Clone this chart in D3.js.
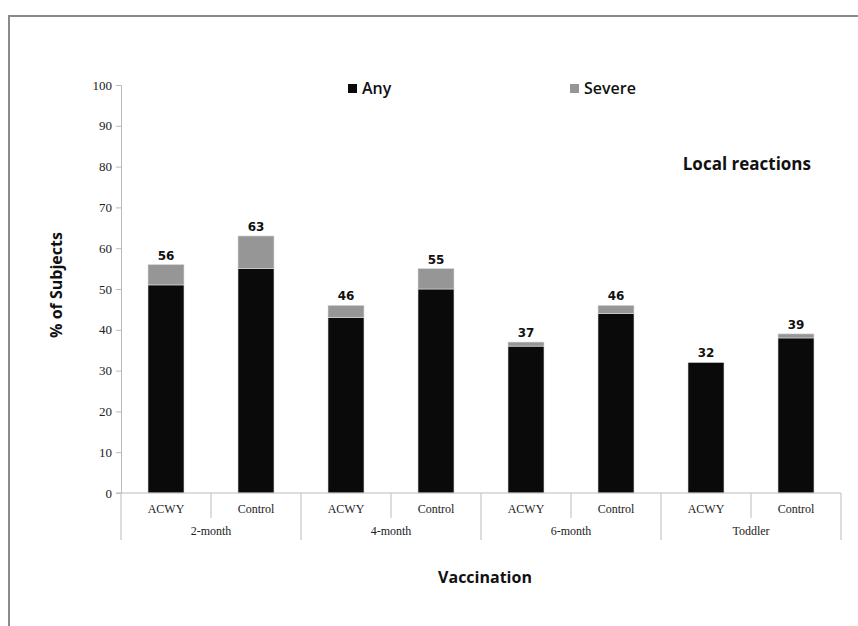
<!DOCTYPE html>
<html><head><meta charset="utf-8">
<script src="https://cdn.jsdelivr.net/npm/d3@7"></script>
<style>body{margin:0;background:#fff}</style>
</head><body>
<svg id="c" width="858" height="626"></svg>
<script>
const groups = ["2-month","4-month","6-month","Toddler"];
const arms = ["ACWY","Control"];
const anyVals = [51,55,43,50,36,44,32,38];
const severeVals = [5,8,3,5,1,2,0,1];
const totals = [56,63,46,55,37,46,32,39];
const yTicks = [0,10,20,30,40,50,60,70,80,90,100];
const seriesNames = ["Any","Severe"];
const colors = {Any:"#0a0a0a", Severe:"#969696"};

const svg = d3.select("#c");
// frame
svg.append("line").attr("x1",8).attr("x2",858).attr("y1",16).attr("y2",16).attr("stroke","#8a8a8a").attr("stroke-width",2);
svg.append("line").attr("x1",9).attr("x2",9).attr("y1",16).attr("y2",626).attr("stroke","#8a8a8a").attr("stroke-width",2);

const pLeft=121, pRight=841, pTop=85, pBottom=493;
const cats = [];
groups.forEach(g=>arms.forEach(a=>cats.push(g+"|"+a)));
const x = d3.scaleBand().domain(cats).range([pLeft,pRight]).paddingInner(0.6).paddingOuter(0.3);
const xb = d3.scaleBand().domain(cats).range([pLeft,pRight]);
const y = d3.scaleLinear().domain([0,100]).range([pBottom,pTop]);

// y axis
const yAxis = svg.append("g").attr("transform",`translate(${pLeft},0)`)
  .call(d3.axisLeft(y).tickValues(yTicks).tickSize(5).tickPadding(4));
yAxis.select(".domain").attr("stroke","#bbb");
yAxis.selectAll(".tick line").attr("stroke","#bbb");
yAxis.selectAll("text").attr("font-family","Liberation Serif, serif").attr("font-size",13).attr("fill","#222");

// bars
const stackData = cats.map((c,i)=>({cat:c, Any:anyVals[i], Severe:severeVals[i]}));
const stack = d3.stack().keys(seriesNames)(stackData);
svg.append("g").selectAll("g").data(stack).join("g").attr("fill",d=>colors[d.key])
  .selectAll("rect").data(d=>d).join("rect")
  .attr("x",d=>x(d.data.cat)).attr("width",x.bandwidth())
  .attr("y",d=>y(d[1])).attr("height",d=>Math.max(0,y(d[0])-y(d[1])))
  .attr("stroke","#ddd").attr("stroke-width",0.6);

// totals labels
svg.append("g").selectAll("text").data(cats).join("text")
  .attr("x",c=>x(c)+x.bandwidth()/2).attr("y",(c,i)=>y(totals[i])-5)
  .attr("text-anchor","middle").attr("font-family","DejaVu Sans, sans-serif").attr("font-weight","bold")
  .attr("font-size",12).attr("fill","#111").text((c,i)=>totals[i]);

// x axis baseline
svg.append("line").attr("x1",pLeft-5).attr("x2",pRight).attr("y1",pBottom).attr("y2",pBottom).attr("stroke","#bbb");
// separators
cats.forEach((c,i)=>{
  const xe = xb(c);
  const isGroup = i%2===0;
  svg.append("line").attr("x1",xe).attr("x2",xe).attr("y1",pBottom).attr("y2",isGroup?540:518).attr("stroke","#bbb");
});
svg.append("line").attr("x1",pRight).attr("x2",pRight).attr("y1",pBottom).attr("y2",540).attr("stroke","#bbb");

// arm labels
svg.append("g").selectAll("text").data(cats).join("text")
  .attr("x",c=>xb(c)+xb.bandwidth()/2).attr("y",513).attr("text-anchor","middle")
  .attr("font-family","Liberation Serif, serif").attr("font-size",12).attr("fill","#222")
  .text(c=>c.split("|")[1]);
// group labels
svg.append("g").selectAll("text").data(groups).join("text")
  .attr("x",g=>xb(g+"|ACWY")+xb.bandwidth()).attr("y",535).attr("text-anchor","middle")
  .attr("font-family","Liberation Serif, serif").attr("font-size",12).attr("fill","#222")
  .text(g=>g);

// axis titles
svg.append("text").attr("x",485).attr("y",583).attr("text-anchor","middle")
  .attr("font-family","Open Sans, sans-serif").attr("font-weight","bold").attr("font-size",16).attr("fill","#111").text("Vaccination");
svg.append("text").attr("transform","translate(62,285) rotate(-90)").attr("text-anchor","middle")
  .attr("font-family","Open Sans, sans-serif").attr("font-weight","bold").attr("font-size",16).attr("fill","#111").text("% of Subjects");

// legend
const legX = [348,570];
seriesNames.forEach((s,i)=>{
  svg.append("rect").attr("x",legX[i]).attr("y",84).attr("width",9).attr("height",9).attr("fill",colors[s]);
  svg.append("text").attr("x",legX[i]+14).attr("y",94).attr("font-family","Open Sans, sans-serif").attr("font-weight",600)
    .attr("font-size",16).attr("fill","#111").text(s);
});
svg.append("text").attr("x",811).attr("y",170).attr("text-anchor","end")
  .attr("font-family","Open Sans, sans-serif").attr("font-weight","bold").attr("font-size",17).attr("fill","#111").text("Local reactions");
</script>
</body></html>
